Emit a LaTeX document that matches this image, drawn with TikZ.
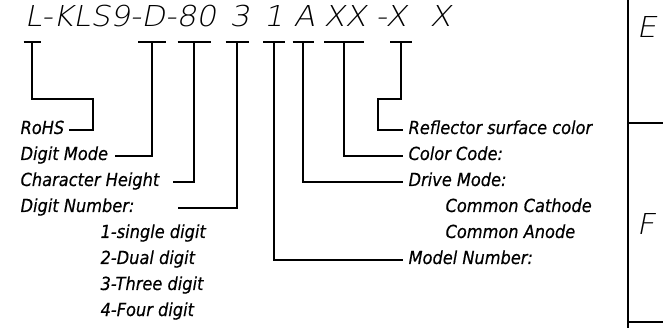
\documentclass[tikz,border=0pt]{standalone}
\usepackage{fontspec}
\setmainfont{DejaVu Sans}
\newfontfamily\cadfont{DejaVu Sans}[FakeStretch=0.9,FakeBold=0.4]
\IfFontExistsTF{DejaVu Sans ExtraLight}
{\newfontfamily\codefont{DejaVu Sans ExtraLight}[FakeSlant=0.2,FakeStretch=1.08]}
{\newfontfamily\codefont{DejaVu Sans}[FakeSlant=0.2,FakeStretch=1.08]}
\tikzset{lbl/.style={font=\cadfont\itshape\fontsize{18}{20}\selectfont,inner sep=0pt,
text height=8pt,text depth=0pt,anchor=west},
rlbl/.style={lbl,inner xsep=5pt},
code/.style={font=\codefont\fontsize{28.8}{32}\selectfont,inner sep=0pt,anchor=base west}}
\begin{document}
\begin{tikzpicture}[x=1pt,y=-1pt,line width=1.2pt]
\useasboundingbox(0,0)rectangle(663,328);
% part number
\node[code](pn)at(24,27){L-KLS9-D-80};
\node[code](pn3)at(229,27){3};
\node[code](pn1)at(263,27){1};
\node[code](pnA)at(293,27){A};
\node[code](pnX)at(323,27){XX};
\node[code](pnR)at(375,27){-X};
\node[code](pnS)at(429,27){X};
\foreach \n/\x/\w in{L/32/17,D/152/28,H/194/33,N/237/23,M/274/22,A/303/21,C/344/40,R/401/22}{
\coordinate(t\n)at(\x,42);
\draw(\x-\w/2,42)--(\x+\w/2,42);}
% left labels
\node[lbl](rohs)at(20,130){RoHS};
\node[lbl](mode)at(20,156){Digit Mode};
\node[lbl](height)at(20,182){Character Height};
\node[lbl](number)at(20,208){Digit Number:};
\node[lbl](n1)at(100,234){1-single digit};
\node[lbl](n2)at(100,260){2-Dual digit};
\node[lbl](n3)at(100,286){3-Three digit};
\node[lbl](n4)at(100,312){4-Four digit};
% right labels
\node[rlbl](refl)at(403,130){Reflector surface color};
\node[rlbl](color)at(403,156){Color Code:};
\node[rlbl](drive)at(403,182){Drive Mode:};
\node[lbl](cath)at(445,208){Common Cathode};
\node[lbl](anode)at(445,234){Common Anode};
\node[rlbl](model)at(403,260){Model Number:};
% leader lines
\coordinate(kL)at(93,99);\coordinate(eR)at(69,130);
\coordinate(eM)at(115,156);\coordinate(eH)at(173,182);\coordinate(eN)at(178,208);
\coordinate(kR)at(378,99);
\draw(tL)|-(kL)|-(eR);
\draw(tD)|-(eM);
\draw(tH)|-(eH);
\draw(tN)|-(eN);
\draw(tM)|-(model.west);
\draw(tA)|-(drive.west);
\draw(tC)|-(color.west);
\draw(tR)|-(kR)|-(refl.west);
% frame
\draw(628,0)--(628,328)(628,123)--(663,123)(628,322)--(663,322);
\node[code](E)at(636,38){E};
\node[code](F)at(636,235){F};
\end{tikzpicture}
\end{document}
